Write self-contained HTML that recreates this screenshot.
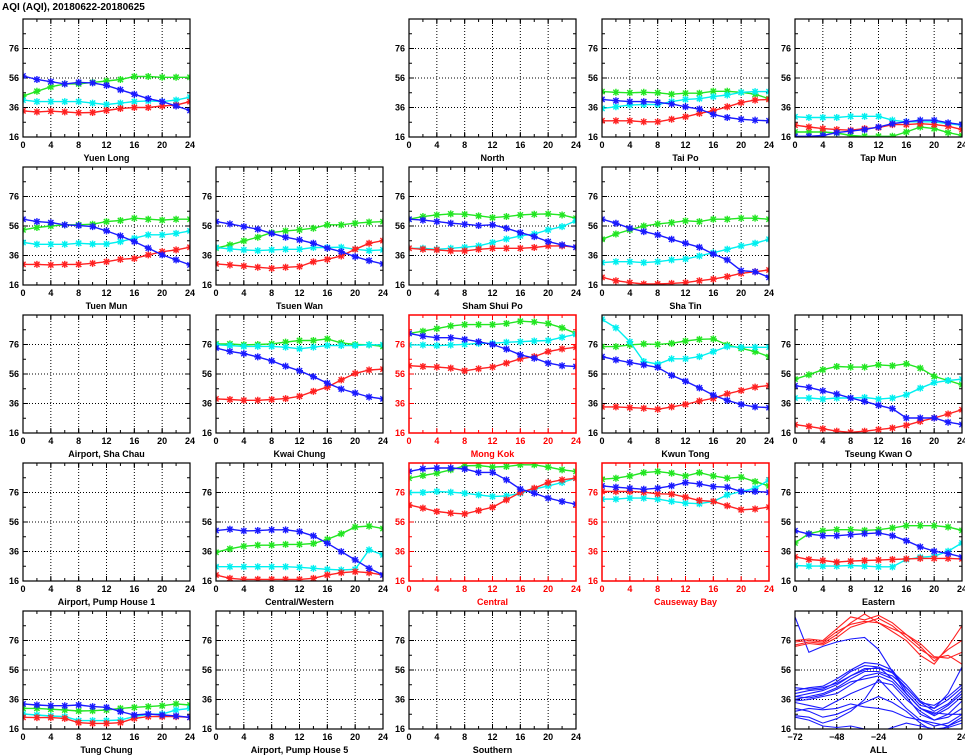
<!DOCTYPE html>
<html><head><meta charset="utf-8">
<style>
html,body{margin:0;padding:0;background:#fff;}
svg{display:block;font-family:"Liberation Sans",sans-serif;}
.tl{font-size:9px;font-weight:bold;}
.tt{font-size:9px;font-weight:bold;}
</style></head>
<body>
<svg id="chart" width="965" height="755" viewBox="0 0 965 755">
<text x="2" y="10" font-size="10" font-weight="bold">AQI (AQI), 20180622-20180625</text>
</svg>
<script>
const hours = [0,2,4,6,8,10,12,14,16,18,20,22,24];
const yTicks = [16,36,56,76];
const xTicks = [0,4,8,12,16,20,24];
const allXTicks = [-72,-48,-24,0,24];
const allHours = [-72,-64,-56,-48,-40,-32,-24,-16,-8,0,8,16,24];

const yuenLongBlue  = [57.4,55,53.5,52,53,52.7,51,48,45,42,40,37,34];
const yuenLongGreen = [43.7,47,50,52,52,53,54,55,57,57,56.5,56.5,56.5];
const yuenLongCyan  = [41,40,40,40,40,39,38,39,40,40.5,40,41,43];
const yuenLongRed   = [33.7,33,33.5,33,32.4,32.6,34,35.3,36,36,37,37.6,40];

const taiPoGreen = [46.8,46.3,46,46.3,46,45,45.7,45.7,47,47,46.3,45,42];
const taiPoBlue  = [41.5,40.6,40,40,39.5,38.4,36.5,35,31.3,29.2,28,27.4,27];
const taiPoCyan  = [35.4,36.5,37.7,38,38,40,41.5,42,43.4,44.5,46.3,46.8,46.8];
const taiPoRed   = [27,27,27,26.3,26.3,28,29.7,32,33.8,36.5,39.3,41,41.5];

const tapMunCyan  = [29.7,29.2,29.2,29.2,30,30,30,27.4,26.3,26.3,26.3,25,24];
const tapMunRed   = [24,22.8,21.7,21,20.6,21.7,22.4,24.4,24.4,25,24.4,23.3,21];
const tapMunBlue  = [16.5,16.5,17,19,20,21,22.8,25,26.3,27.4,27.4,25.6,24.4];
const tapMunGreen = [19.4,19.4,19.4,18.7,17,16.5,16.5,16.5,19.4,22.8,21.7,19,17];

const tuenMunBlue  = [60.6,59,58.3,56.8,56.3,55.6,52.7,49.3,45.4,41,36.4,33,29.6];
const tuenMunGreen = [53.4,55,56,56.8,56.8,57.2,59,59.7,61.3,60.6,60,60.6,60.6];
const tuenMunCyan  = [44.8,43.6,43.6,43.6,44.3,43.8,43.8,45.4,47.7,50,50,51,52.7];
const tuenMunRed   = [30,30,29.6,30,30,30.7,31.8,33.4,34,36.4,38.6,39.8,41.6];

const tsuenWanBlue  = [59,57.4,55.6,53.8,51,48.4,46.6,44.3,41,38.6,35.2,32.5,30.3];
const tsuenWanGreen = [41,43.2,45.9,48.4,51.5,52.7,53.4,54.5,56.8,56.8,57.9,58.6,59];
const tsuenWanCyan  = [41.4,40.5,39.8,39.3,39.8,40.2,40.2,41.4,41.4,41.6,40.2,39.3,39.8];
const tsuenWanRed   = [30.3,29.6,28.9,28,27.3,28,28.5,31.8,33.4,35.7,40.2,44.3,46.1];

const shamShuiPoBlue  = [60.6,60,59,57.9,57.2,56.3,56.8,54.5,51.5,48.8,45.4,43.2,41.6];
const shamShuiPoGreen = [60.6,62.4,63.5,64.2,64,62.9,61.7,62.4,63.5,64,64.2,63.5,61.3];
const shamShuiPoCyan  = [40.9,40.9,40.2,40.9,41.6,42.5,44.8,47.2,49.3,50.6,53.4,55.6,59.5];
const shamShuiPoRed   = [40.9,40.2,39.8,39.1,39.1,40.2,40.9,40.9,40.9,41.4,42.5,42.5,41.6];

const shaTinBlue  = [60.6,57.9,54.5,52.2,50,47,44.3,41.6,37,33,25.7,25,21.2];
const shaTinGreen = [47,50.6,53.4,56,57.4,58.3,59.5,59,60.6,60.6,61.3,61.3,60.6];
const shaTinCyan  = [31.2,31.8,31.8,31.2,31.8,33,33.6,35.7,37.9,40.2,42.5,44.3,47];
const shaTinRed   = [21.2,18.9,17.6,16.7,16.7,17.1,17.6,18.9,20,21.7,23.9,25,26.2];

const kwaiChungGreen = [76.4,76.4,75.8,76,76.4,77.6,78.7,78.7,79.8,77.1,76,75.8,74.7];
const kwaiChungCyan  = [75.8,75.3,74.7,74.7,74.7,74.2,73.1,74.2,75.3,75.3,75.3,75.8,75.8];
const kwaiChungBlue  = [73.6,71.3,69.8,67.6,64.9,61.3,58.2,54.2,49.8,45.8,43.1,40.4,39.1];
const kwaiChungRed   = [39.1,38.7,38.2,38.2,38.7,39.3,40.9,44.2,47.1,52,56.4,58.7,59.3];

const mongKokGreen = [83.5,85,86.8,88.6,89.5,89.5,89.5,90.2,91.8,91.3,90.2,87.3,83.5];
const mongKokBlue  = [83.5,81.7,80.6,80.6,79.5,77.9,76,72.9,69,66.7,63.4,61.6,61.1];
const mongKokCyan  = [75.7,75.7,75.2,75.7,76.1,76.8,76.8,77.5,77.9,78.4,78.7,80.9,82.9];
const mongKokRed   = [61.6,61.1,60.7,60,58.2,59.6,60.7,63.4,66.3,67.8,71.2,73,74.1];

const kwunTongCyan  = [93.1,87.3,77.9,64.5,62.7,66.3,66.3,67.8,71.2,74.6,74.1,74.1,74.1];
const kwunTongGreen = [74.6,74.6,75.7,76.4,76.1,76.8,78.4,79.5,79.8,75.7,73.4,71.2,67.8];
const kwunTongBlue  = [67.8,65.6,63.8,62.2,60.5,55.1,51.1,46.6,41.7,38.1,35.4,33.7,33.2];
const kwunTongRed   = [33.7,33.7,33.2,32.8,32.1,33.7,35.4,37.7,39.5,42.6,44.8,47.1,48.2];

const tseungKwanOGreen = [52.5,55.5,58.9,61.1,60.7,60.7,62.2,61.6,62.9,60,54.4,51.6,48.7];
const tseungKwanOBlue  = [48,46.9,44.6,42.4,39.7,37.4,34.8,32.5,26.2,26.2,26.2,23.3,21.8];
const tseungKwanOCyan  = [39.7,39.7,39,39.7,39.7,40.1,39,39.7,41.9,46.4,50.2,51.6,52.5];
const tseungKwanORed   = [21.6,20.5,18.9,17.2,16.5,17.2,18.3,19.4,21.2,23.9,26.2,28.9,31.8];

const centralWesternBlue  = [50.2,51.1,50,50.2,50.7,50.7,49.5,46.6,41.6,35.9,30.3,24.6,20.1];
const centralWesternGreen = [35.5,37.8,39.6,40.3,40.3,40.8,40.8,41.4,44.2,48,52.6,53.2,51.6];
const centralWesternCyan  = [25.7,25.7,25.7,25.7,25.7,25.7,25.3,24.6,23.9,23.5,23.9,37.1,33.7];
const centralWesternRed   = [20.1,17.8,17.1,17.1,17.1,17.1,17.1,17.8,20.1,21.6,22.3,21.6,20.1];

const centralBlue  = [90.3,92.1,92.6,92.6,91.9,89.6,89.6,84.6,78.3,75.5,72.2,69.9,68.1];
const centralGreen = [85.7,87.5,89.1,91.4,94.1,94.3,93.2,93.6,94.8,94.8,93.2,91.4,90.3];
const centralCyan  = [76,76,76.7,76.2,75.5,74.4,73.3,73.7,75.5,78.3,80.5,82.8,85.7];
const centralRed   = [67.6,65.4,63.1,62,61.5,63.8,66,71,76,78.9,82.8,84.6,85.7];

const causewayBayGreen = [85,85.7,87.2,89.5,90.2,89.1,87.2,89.5,87.2,85.7,86.4,83.4,80.5];
const causewayBayBlue  = [80.5,79.6,78.9,78.2,78.9,80.5,82.7,81.8,80,79.6,76.7,76.7,76.2];
const causewayBayRed   = [76.7,76.7,76.7,76.2,75.1,74.9,72.9,70.6,70,67,64.3,64.8,66.1];
const causewayBayCyan  = [71.5,71.5,72.2,72.2,71.5,70,68.8,68.4,70,74.4,76.7,78.9,84.5];

const easternGreen = [41.8,48.1,50.1,50.8,50.8,50.3,50.8,52,53.5,53.5,53.5,52.6,50.3];
const easternBlue  = [50.1,47.8,46.7,46.7,47.4,48.1,48.6,46.7,43.3,39.1,36.2,34.6,32.3];
const easternRed   = [32.4,30.6,29.9,28.8,29.5,29.9,30.2,30.6,31,31.3,31.3,31.3,31];
const easternCyan  = [26.5,26.1,26.1,26.1,26.5,26.1,25.6,25.6,30.6,32.1,32.8,36.2,41.8];

const tungChungBlue  = [33,32.3,31.8,31.8,32.3,31.2,30.7,27.8,25.5,26.2,25.5,24.8,23.9];
const tungChungGreen = [30,30,29.4,28.9,28.2,28.4,28.9,30,30.7,31.2,31.8,33,32.3];
const tungChungCyan  = [26.2,25.5,24.8,24.4,21.7,21.7,21.7,22.1,24.4,25.9,26.2,28.9,30];
const tungChungRed   = [23.9,23.7,23.7,23.2,20.3,19.8,19.8,20.3,23.2,24.4,24.4,24.4,23.9];

const allRed1 = [76,77,76,84,92,90,93,88,80,72,62,70,76];
const allRed2 = [73,75,74,80,88,94,88,84,80,74,65,64,68];
const allRed3 = [75,76,75,82,87,89,88,82,76,66,60,72,86];
const allRed4 = [72,74,73,78,85,88,91,86,78,70,64,66,60];
const allBlue1  = [92,68,72,75,77,78,70,55,40,30,27,26,26];
const allBlue2  = [42,44,45,50,56,61,60,56,42,32,30,40,58];
const allBlue3  = [40,42,43,48,55,59,58,54,44,34,32,38,46];
const allBlue4  = [38,40,42,46,52,57,57,55,46,35,30,36,44];
const allBlue5  = [36,38,40,44,50,55,55,52,44,34,28,33,42];
const allBlue6  = [44,43,44,47,52,56,58,50,40,30,26,32,40];
const allBlue7  = [35,36,38,40,46,52,54,50,40,30,25,30,38];
const allBlue8  = [28,30,29,30,33,31,30,28,24,22,18,20,26];
const allBlue9  = [25,24,20,23,28,36,50,40,30,22,20,18,22];
const allBlue10 = [24,22,18,17,18,16,14,17,20,18,16,17,20];
const allBlue11 = [34,32,30,35,40,44,48,46,36,28,22,24,30];
const allBlue12 = [38,37,39,43,48,50,52,48,38,26,22,26,35];
const allBlue13 = [30,28,24,26,30,34,38,34,28,20,14,18,24];

const C = {green:'#22e622', blue:'#1a1aff', cyan:'#00f0f0', red:'#ff2222'};
const NS = 'http://www.w3.org/2000/svg';
const svg = document.getElementById('chart');
const colLeft = [23,216,409,602,795];
const rowBottom = [137,285,433,581,729];
const PW = 167, PH = 118;
const YMIN = 16, YMAX = 96;

function mk(tag, attrs, parent){
  const e = document.createElementNS(NS, tag);
  for (const k in attrs) e.setAttribute(k, attrs[k]);
  (parent||svg).appendChild(e);
  return e;
}
function slug(s){return s.toLowerCase().replace(/[^a-z0-9]+/g,'-').replace(/-$/,'');}

function panel(col,row,name,red,series,xmin,xmax,xt){
  const x0 = colLeft[col], yb = rowBottom[row], yt = yb-PH;
  const ink = red ? '#ff0000' : '#000';
  const sx = v => x0 + (v-xmin)/(xmax-xmin)*PW;
  const sy = v => yb - (v-YMIN)/(YMAX-YMIN)*PH;
  const g = mk('g',{});
  
  
  const cid = 'clip-'+slug(name);
  const cp = mk('clipPath',{id:cid},g);
  mk('rect',{x:x0,y:yt,width:PW,height:PH},cp);
  xt.forEach(v=>{ if(v>xmin && v<xmax){
    const l = mk('line',{x1:sx(v),x2:sx(v),y1:yt,y2:yb,stroke:'#000','stroke-width':1,'stroke-dasharray':'1,2'},g);
    
    
  }});
  [36,56,76].forEach(v=>{
    const l = mk('line',{x1:x0,x2:x0+PW,y1:sy(v),y2:sy(v),stroke:'#000','stroke-width':1,'stroke-dasharray':'1,2'},g);
    
    
  });
  for(let v=26; v<96; v+=10){
    mk('line',{x1:x0,x2:x0+3,y1:sy(v),y2:sy(v),stroke:ink},g);
    mk('line',{x1:x0+PW-3,x2:x0+PW,y1:sy(v),y2:sy(v),stroke:ink},g);
  }
  yTicks.forEach(v=>{
    mk('line',{x1:x0,x2:x0+5,y1:sy(v),y2:sy(v),stroke:ink},g);
    mk('line',{x1:x0+PW-5,x2:x0+PW,y1:sy(v),y2:sy(v),stroke:ink},g);
    const t = mk('text',{x:x0-4,y:sy(v)+3,'text-anchor':'end',fill:ink,class:'tl'},g);
    t.textContent = v;
    
    
  });
  const step = (xmax-xmin)/12;
  for(let v=xmin; v<=xmax+0.01; v+=step){
    mk('line',{x1:sx(v),x2:sx(v),y1:yb,y2:yb-3,stroke:ink},g);
    mk('line',{x1:sx(v),x2:sx(v),y1:yt,y2:yt+3,stroke:ink},g);
  }
  xt.forEach(v=>{
    mk('line',{x1:sx(v),x2:sx(v),y1:yb,y2:yb-5,stroke:ink},g);
    mk('line',{x1:sx(v),x2:sx(v),y1:yt,y2:yt+5,stroke:ink},g);
    const t = mk('text',{x:sx(v),y:yb+11,'text-anchor':'middle',fill:ink,class:'tl'},g);
    t.textContent = (v<0?'\u2212'+(-v):v);
    
    
  });
  const sg = mk('g',{'clip-path':'url(#'+cid+')'},g);
  series.forEach(s=>{
    const pts = s.vals.map((v,i)=>sx(s.xs[i]).toFixed(1)+','+sy(v).toFixed(1)).join(' ');
    const pl = mk('polyline',{points:pts,fill:'none',stroke:C[s.color],'stroke-width':s.markers?1.4:1.1},sg);
    
    
    if(s.markers){
      s.vals.forEach((v,i)=>{
        const cx = sx(s.xs[i]), cy = sy(v), r = 3.5;
        const d = `M${cx-r},${cy}H${cx+r}M${cx},${cy-r}V${cy+r}M${cx-r*0.75},${cy-r*0.75}L${cx+r*0.75},${cy+r*0.75}M${cx-r*0.75},${cy+r*0.75}L${cx+r*0.75},${cy-r*0.75}`;
        const m = mk('path',{d:d,stroke:C[s.color],'stroke-width':1.4,fill:'none'},sg);
        
        
      });
    }
  });
  const fr = mk('rect',{x:x0,y:yt,width:PW,height:PH,fill:'none',stroke:ink,'stroke-width':red?1.5:1.2},g);
  
  
  const tt = mk('text',{x:x0+PW/2,y:yb+24,'text-anchor':'middle',fill:ink,class:'tt'},g);
  tt.textContent = name;
  
  
}

function st(g,b,c,r){
  const out=[];
  if(g) out.push({color:'green',vals:g,xs:hours,markers:true});
  if(c) out.push({color:'cyan',vals:c,xs:hours,markers:true});
  if(r) out.push({color:'red',vals:r,xs:hours,markers:true});
  if(b) out.push({color:'blue',vals:b,xs:hours,markers:true});
  return out;
}

panel(0,0,'Yuen Long',false,st(yuenLongGreen,yuenLongBlue,yuenLongCyan,yuenLongRed),0,24,xTicks);
panel(2,0,'North',false,[],0,24,xTicks);
panel(3,0,'Tai Po',false,st(taiPoGreen,taiPoBlue,taiPoCyan,taiPoRed),0,24,xTicks);
panel(4,0,'Tap Mun',false,st(tapMunGreen,tapMunBlue,tapMunCyan,tapMunRed),0,24,xTicks);
panel(0,1,'Tuen Mun',false,st(tuenMunGreen,tuenMunBlue,tuenMunCyan,tuenMunRed),0,24,xTicks);
panel(1,1,'Tsuen Wan',false,st(tsuenWanGreen,tsuenWanBlue,tsuenWanCyan,tsuenWanRed),0,24,xTicks);
panel(2,1,'Sham Shui Po',false,st(shamShuiPoGreen,shamShuiPoBlue,shamShuiPoCyan,shamShuiPoRed),0,24,xTicks);
panel(3,1,'Sha Tin',false,st(shaTinGreen,shaTinBlue,shaTinCyan,shaTinRed),0,24,xTicks);
panel(0,2,'Airport, Sha Chau',false,[],0,24,xTicks);
panel(1,2,'Kwai Chung',false,st(kwaiChungGreen,kwaiChungBlue,kwaiChungCyan,kwaiChungRed),0,24,xTicks);
panel(2,2,'Mong Kok',true,st(mongKokGreen,mongKokBlue,mongKokCyan,mongKokRed),0,24,xTicks);
panel(3,2,'Kwun Tong',false,st(kwunTongGreen,kwunTongBlue,kwunTongCyan,kwunTongRed),0,24,xTicks);
panel(4,2,'Tseung Kwan O',false,st(tseungKwanOGreen,tseungKwanOBlue,tseungKwanOCyan,tseungKwanORed),0,24,xTicks);
panel(0,3,'Airport, Pump House 1',false,[],0,24,xTicks);
panel(1,3,'Central/Western',false,st(centralWesternGreen,centralWesternBlue,centralWesternCyan,centralWesternRed),0,24,xTicks);
panel(2,3,'Central',true,st(centralGreen,centralBlue,centralCyan,centralRed),0,24,xTicks);
panel(3,3,'Causeway Bay',true,st(causewayBayGreen,causewayBayBlue,causewayBayCyan,causewayBayRed),0,24,xTicks);
panel(4,3,'Eastern',false,st(easternGreen,easternBlue,easternCyan,easternRed),0,24,xTicks);
panel(0,4,'Tung Chung',false,st(tungChungGreen,tungChungBlue,tungChungCyan,tungChungRed),0,24,xTicks);
panel(1,4,'Airport, Pump House 5',false,[],0,24,xTicks);
panel(2,4,'Southern',false,[],0,24,xTicks);
const allSeries = [allBlue1,allBlue2,allBlue3,allBlue4,allBlue5,allBlue6,allBlue7,allBlue8,allBlue9,allBlue10,allBlue11,allBlue12,allBlue13]
  .map(v=>({color:'blue',vals:v,xs:allHours,markers:false}))
  .concat([allRed1,allRed2,allRed3,allRed4].map(v=>({color:'red',vals:v,xs:allHours,markers:false})));
panel(4,4,'ALL',false,allSeries,-72,24,allXTicks);
</script>
</body></html>
